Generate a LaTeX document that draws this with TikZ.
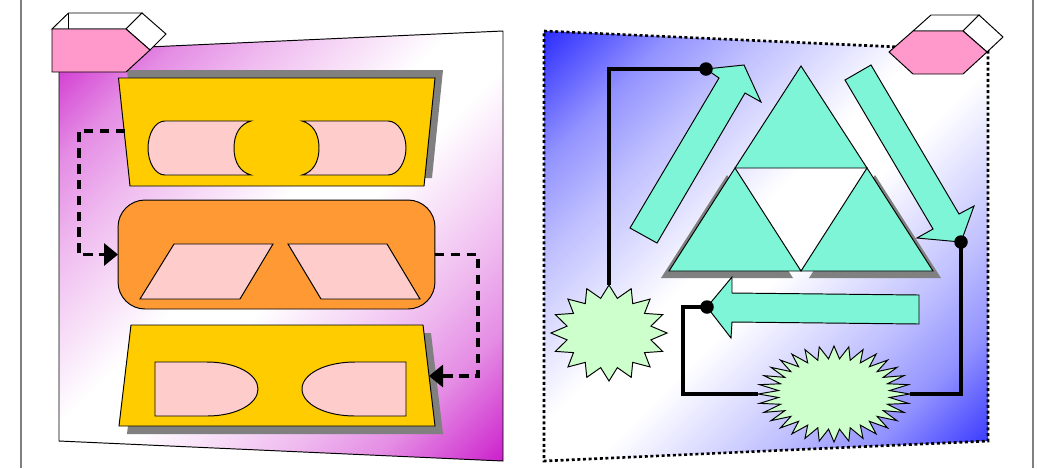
\documentclass[tikz,border=0pt]{standalone}
\usepackage{xcolor}
\usetikzlibrary{arrows.meta,shapes.geometric,positioning}
\definecolor{lilac}{RGB}{204,34,204}
\definecolor{deepblue}{RGB}{45,45,255}
\definecolor{cardyellow}{RGB}{255,204,0}
\definecolor{cardorange}{RGB}{255,153,51}
\definecolor{softpink}{RGB}{255,204,204}
\definecolor{capepink}{RGB}{255,153,204}
\definecolor{mint}{RGB}{125,245,214}
\definecolor{burstgreen}{RGB}{204,255,204}
\colorlet{lilacmid}{lilac!52!white}
\colorlet{lilacpale}{lilac!30!white}
\colorlet{bluemid}{deepblue!52!white}
\colorlet{bluepale}{deepblue!30!white}
\pgfdeclareverticalshading{lilacband}{100bp}{color(0bp)=(lilac); color(14.6bp)=(lilac); color(25bp)=(lilacmid); color(33bp)=(lilacpale); color(46.5bp)=(white); color(53.5bp)=(white); color(67bp)=(lilacpale); color(75bp)=(lilacmid); color(85.4bp)=(lilac); color(100bp)=(lilac)}
\pgfdeclareverticalshading{blueband}{100bp}{color(0bp)=(deepblue); color(14.6bp)=(deepblue); color(25bp)=(bluemid); color(33bp)=(bluepale); color(46.5bp)=(white); color(53.5bp)=(white); color(67bp)=(bluepale); color(75bp)=(bluemid); color(85.4bp)=(deepblue); color(100bp)=(deepblue)}
\tikzset{
  outline/.style={draw=black,line width=0.55pt,line join=miter},
  lilacpanel/.style={outline,shade,shading=lilacband,shading angle=45},
  bluepanel/.style={draw=black,line width=1.5pt,dash pattern=on 1.7pt off 1.5pt,shade,shading=blueband,shading angle=45},
  shadowshape/.style={fill=black!50},
  yellowcard/.style={outline,fill=cardyellow},
  pinkface/.style={outline,fill=softpink},
  capeface/.style={outline,fill=capepink},
  blankface/.style={outline,fill=white},
  mintshape/.style={outline,fill=mint},
  orangecard/.style={outline,fill=cardorange,rectangle,rounded corners=0.54cm,minimum width=6.34cm,minimum height=2.18cm,outer sep=0pt},
  burst/.style={outline,fill=burstgreen,star,star point ratio=1.36,minimum size=1.92cm,inner sep=0pt,outer sep=0pt},
  dotnode/.style={circle,fill=black,minimum size=0.27cm,inner sep=0pt},
  dashlink/.style={line width=1.8pt,dash pattern=on 5.4pt off 3.6pt,-{Triangle[length=0.28cm,width=0.44cm]}},
  solidlink/.style={line width=1.8pt,line join=miter},
}
\begin{document}
\begin{tikzpicture}[x=0.02cm,y=-0.02cm]
\useasboundingbox (0,0) rectangle (1037,468);
% page edges
\draw[black!50,line width=0.9pt] (21,0) -- (21,468);
\draw[black!50,line width=0.9pt] (1033,0) -- (1033,468);

% left panel
\path[lilacpanel] (59,51) -- (503,31) -- (503,461) -- (59,441) -- cycle;
\fill[shadowshape] (127,70) -- (443,70) -- (432,178) -- (138,178) -- cycle;
\draw[yellowcard] (118.5,78) -- (435,78) -- (424,186) -- (130,186) -- cycle;
\draw[pinkface] (165,121) -- (251,121) .. controls (240,124) and (234,134) .. (234,148) .. controls (234,162) and (240,172) .. (251,175) -- (165,175) .. controls (155,175) and (148,162) .. (148,148) .. controls (148,134) and (155,121) .. (165,121) -- cycle;
\draw[pinkface] (388,121) -- (302,121) .. controls (313,124) and (319,134) .. (319,148) .. controls (319,162) and (313,172) .. (302,175) -- (388,175) .. controls (398,175) and (406,162) .. (406,148) .. controls (406,134) and (398,121) .. (388,121) -- cycle;
\node[orangecard] (middlecard) at (276.5,254.5) {};
\draw[pinkface] (174,244) -- (273,244) -- (240,299) -- (140,299) -- cycle;
\draw[pinkface] (288,244) -- (387,244) -- (420,299) -- (321,299) -- cycle;
\fill[shadowshape] (139,333) -- (431,333) -- (443,434) -- (127,434) -- cycle;
\draw[yellowcard] (131,325) -- (423,325) -- (435,426) -- (119,426) -- cycle;
\draw[pinkface] (155,362) -- (207,362) .. controls (236,362) and (258,374) .. (258,389) .. controls (258,404) and (236,416) .. (207,416) -- (155,416) -- cycle;
\draw[pinkface] (406,362) -- (355,362) .. controls (325,362) and (302,374) .. (302,389) .. controls (302,404) and (325,416) .. (355,416) -- (406,416) -- cycle;

% left cape
\draw[blankface] (52,29) -- (68.5,13) -- (142,13) -- (126,29) -- cycle;
\draw[outline] (68.5,13) -- (68.5,29);
\draw[blankface] (126,29) -- (142,13) -- (166,34) -- (150,50) -- cycle;
\draw[capeface] (52,29) -- (126,29) -- (150,50) -- (126,72) -- (52,72) -- cycle;

% left links
\coordinate (topcardout) at (125,131);
\coordinate (botcardin) at (429,376);
\draw[dashlink] (topcardout) -- (79,131) |- (middlecard.west);
\draw[dashlink] (middlecard.east) -- (478,254.5) |- (botcardin);

% right panel
\path[bluepanel] (544,31) -- (988,51) -- (988,441) -- (544,461) -- cycle;
\fill[shadowshape] (727,175) -- (793,278) -- (661,278) -- cycle;
\fill[shadowshape] (875,175) -- (941,278) -- (809,278) -- cycle;
\draw[mintshape] (801,66) -- (867,168) -- (735,168) -- cycle;
\draw[mintshape] (735,168) -- (801,271) -- (669,271) -- cycle;
\draw[mintshape] (867,168) -- (933,271) -- (801,271) -- cycle;

% arrows round the triangle
\draw[mintshape] (630,228) -- (719,78) -- (706,69) -- (744,65) -- (761,102) -- (745,93) -- (657,243) -- cycle;
\draw[mintshape] (845,80) -- (871,65) -- (959,214) -- (974,206) -- (961,242) -- (917,238) -- (933,229) -- cycle;
\draw[mintshape] (919,295) -- (919,324) -- (732,322) -- (731,338) -- (707,307) -- (732,277) -- (732,293) -- cycle;

% right cape
\draw[blankface] (913,31) -- (931,15) -- (979,15) -- (963,31) -- cycle;
\draw[blankface] (963,31) -- (979,15) -- (1003,37) -- (987,52) -- cycle;
\draw[capeface] (889,52) -- (913,31) -- (963,31) -- (987,52) -- (963,74) -- (913,74) -- cycle;

% bursts and links
\node[burst,star points=16,xscale=1.21] (leftburst) at (609,333) {};
\node[burst,star points=32,xscale=1.58] (bigburst) at (834,394) {};
\node[dotnode] (dotup) at (706,69) {};
\node[dotnode] (dotright) at (961,242) {};
\node[dotnode] (dotleft) at (707,307) {};
\draw[solidlink] (leftburst.north) |- (dotup.center);
\draw[solidlink] (bigburst.east) -| (dotright.center);
\draw[solidlink] (bigburst.west) -- (683,394) |- (dotleft.center);
\end{tikzpicture}
\end{document}
